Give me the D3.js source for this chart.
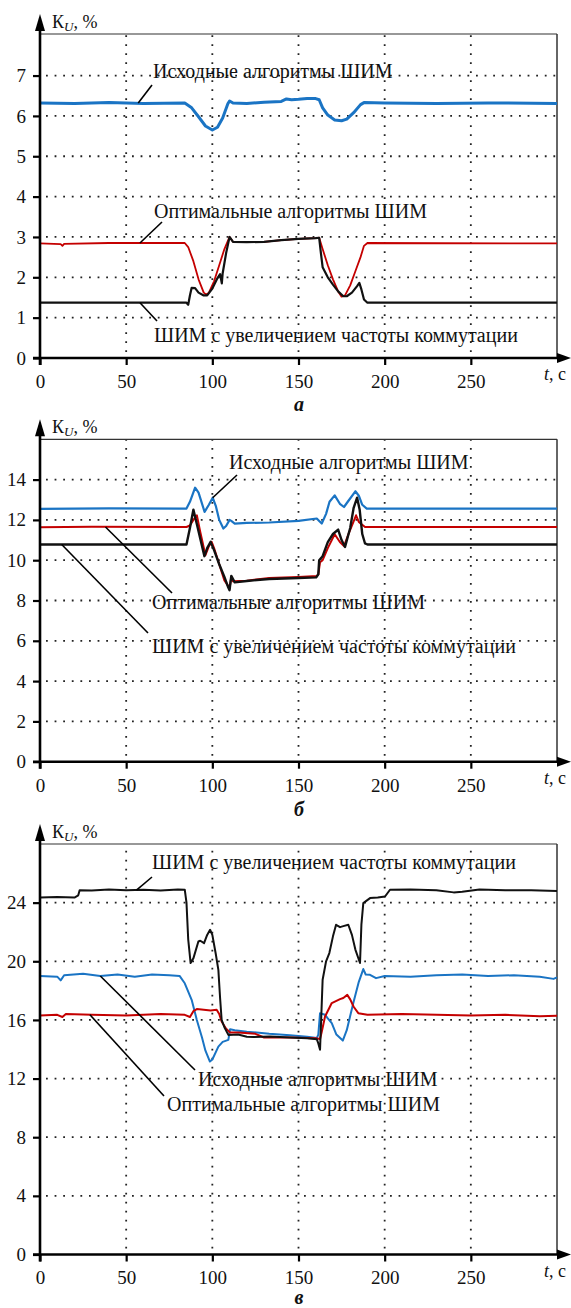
<!DOCTYPE html>
<html>
<head>
<meta charset="utf-8">
<script src="https://cdn.jsdelivr.net/npm/d3@7"></script>
<style>
  body { margin: 0; background: #fff; }
  svg { display: block; font-family: "Liberation Serif", "Times New Roman", serif; }
</style>
</head>
<body>
<svg id="chart" width="571" height="1308"></svg>
<script>
const d3 = window.d3

// ---- data: [t, K_U %] ----
const tTicks = [0, 50, 100, 150, 200, 250]
const tGrid = [50, 100, 150, 200, 250]

// panel а
const aTicks = [0, 1, 2, 3, 4, 5, 6, 7]
const aSource = [[0,6.32],[20,6.31],[40,6.33],[60,6.31],[84,6.32],[88,6.2],[92,5.98],[96,5.75],[100,5.65],[103,5.72],[106,5.95],[109,6.3],[110,6.37],[112,6.32],[120,6.31],[130,6.34],[140,6.36],[143,6.42],[146,6.4],[150,6.41],[155,6.43],[160,6.43],[162,6.4],[164,6.2],[167,6.02],[171,5.9],[175,5.88],[178,5.92],[182,6.08],[186,6.28],[188,6.33],[200,6.32],[230,6.31],[260,6.32],[300,6.31]]
const aOptimal = [[0,2.84],[12,2.82],[13,2.78],[14,2.83],[40,2.85],[84,2.85],[86,2.75],[89,2.4],[92,1.95],[95,1.62],[96.5,1.57],[98,1.62],[101,1.9],[104,2.3],[107,2.7],[110,3.0],[112,2.88],[120,2.87],[130,2.88],[140,2.92],[150,2.95],[160,2.97],[162,2.98],[164,2.7],[167,2.3],[170,1.95],[173,1.65],[175,1.52],[177,1.55],[180,1.8],[183,2.15],[186,2.5],[188,2.78],[190,2.85],[300,2.84]]
const aSwitching = [[0,1.37],[85,1.37],[86,1.32],[87,1.55],[88,1.74],[90,1.73],[92,1.62],[95,1.55],[97,1.55],[100,1.72],[103,1.98],[104.5,2.08],[105.5,1.85],[106,2.1],[108,2.6],[110,3.0],[112,2.88],[120,2.87],[130,2.88],[140,2.92],[150,2.95],[160,2.97],[162,2.98],[163,2.6],[164,2.25],[167,2.0],[170,1.82],[173,1.65],[176,1.53],[178,1.53],[181,1.62],[184,1.78],[185.3,1.86],[186.5,1.7],[188,1.45],[190,1.37],[300,1.37]]

// panel б
const bTicks = [0, 2, 4, 6, 8, 10, 12, 14]
const bSource = [[0,12.55],[40,12.57],[85,12.56],[87,12.9],[90,13.6],[92,13.35],[95.5,12.4],[98,12.75],[100.2,13.1],[102,12.7],[104,12.0],[106.4,11.57],[108,11.7],[110,12.0],[111,11.95],[113,11.82],[120,11.85],[133,11.87],[150,11.95],[160.6,12.07],[162,11.95],[163.5,11.82],[166,12.3],[168,12.9],[171,13.22],[174,12.8],[176.4,12.64],[179,12.95],[183,13.42],[185,13.2],[187,12.75],[189.6,12.56],[300,12.56]]
const bOptimal = [[0,11.63],[30,11.66],[85,11.65],[87,11.72],[89,12.0],[91,12.23],[93,11.4],[96,10.25],[98,10.7],[99.6,10.91],[101,10.6],[104,9.8],[107,9.0],[109,8.75],[110,8.6],[111,9.17],[112,8.95],[120,8.98],[133,9.12],[150,9.17],[160.6,9.22],[161.5,9.3],[162.5,9.9],[164,10.0],[167,10.6],[171,11.29],[174,10.9],[176.4,10.7],[179,11.3],[183.4,12.23],[185,11.9],[188.6,11.65],[300,11.65]]
const bSwitching = [[0,10.78],[85,10.78],[87,11.6],[89,12.51],[91,11.8],[95.4,10.2],[97,10.6],[99,10.91],[101,10.5],[104,9.8],[107,9.17],[109,8.7],[110,8.51],[111,9.22],[113,8.9],[120,8.97],[133,9.07],[150,9.12],[160.3,9.15],[161.5,9.3],[162,10.0],[164,10.2],[167,10.9],[170,11.3],[173,11.52],[175,11.0],[177,10.66],[180,11.6],[182,12.6],[184,13.1],[185.5,12.5],[187,11.3],[188.6,10.83],[190,10.78],[300,10.78]]

// panel в
const cTicks = [0, 4, 8, 12, 16, 20, 24]
const cSource = [[0,19.0],[10,18.95],[12,18.7],[14,19.05],[25,19.15],[35,19.0],[45,19.1],[55,18.95],[65,19.1],[75,19.05],[81,19.0],[84,18.5],[88,17.37],[91,16.0],[94,14.8],[96,13.9],[98.6,13.16],[100,13.3],[103.5,14.18],[106,14.5],[109.3,14.64],[110.3,15.37],[113,15.3],[120,15.2],[133,15.05],[145,14.95],[155,14.85],[160.6,14.76],[161.5,15.0],[162.5,16.46],[165.4,16.35],[167,16.1],[169.3,15.78],[172,15.0],[175.7,14.59],[178,15.3],[181.8,17.15],[185,18.6],[187.6,19.47],[189,19.1],[191.5,19.08],[195,18.85],[200,19.0],[215,18.95],[230,19.05],[245,19.1],[260,19.0],[275,19.05],[290,18.95],[298,18.8],[300,18.9]]
const cOptimal = [[0,16.3],[10,16.35],[13,16.2],[15,16.4],[30,16.35],[50,16.3],[70,16.4],[84,16.35],[87,16.2],[89,16.6],[91,16.74],[95,16.7],[99,16.65],[102.5,16.69],[104,16.4],[105.4,15.89],[108,15.4],[110.3,15.14],[115,15.15],[125,15.05],[130,14.8],[145,14.8],[160,14.75],[162.5,14.7],[163.5,15.2],[165.4,16.23],[169.3,17.15],[174.1,17.42],[176,17.5],[178.3,17.71],[180,17.4],[182,16.9],[184.7,16.46],[190,16.35],[210,16.4],[230,16.35],[250,16.3],[270,16.35],[290,16.25],[300,16.28]]
const cSwitching = [[0,24.35],[10,24.38],[20,24.35],[22.2,24.5],[23,24.85],[30,24.82],[40,24.9],[50,24.85],[60,24.88],[70,24.83],[80,24.9],[84,24.88],[85,24.0],[86,21.5],[87.4,19.88],[89,20.2],[91.9,21.35],[93,21.4],[95.2,21.24],[97,21.8],[98.7,22.15],[100,21.8],[102,20.5],[103.5,19.42],[104.5,17.5],[105.4,16.0],[107,15.5],[109.3,14.98],[115,15.0],[120,14.85],[124,14.83],[133.5,14.87],[145,14.8],[155,14.75],[160.6,14.69],[161.5,14.4],[162.5,13.96],[163.3,16.5],[164,18.74],[166,20.0],[167.9,20.56],[170,21.7],[171.8,22.49],[174.1,22.33],[176,22.4],[178.9,22.49],[181,21.8],[183,20.8],[185.7,19.88],[186.5,22.5],[187.6,23.97],[191.5,24.31],[196,24.35],[200.2,24.42],[203.1,24.88],[215,24.9],[230,24.85],[240,24.7],[245,24.75],[255,24.9],[270,24.85],[285,24.85],[300,24.8]]

const labelSource = 'Исходные алгоритмы ШИМ'
const labelOptimal = 'Оптимальные алгоритмы ШИМ'
const labelSwitching = 'ШИМ с увеличением частоты коммутации'

const blue = '#1a74c4'
const red = '#c40000'
const black = '#111'

// ---- layout ----
let left = 40
let right = 557

let xScale = d3.scaleLinear().domain([0, 300]).range([left, right])

const svg = d3.select('#chart')

const panels = [
  {
    top: 34, bottom: 358, yMax: 8.03, ticks: aTicks, letter: 'а', letterY: 411,
    series: [
      { data: aSource, color: blue, w: 3 },
      { data: aOptimal, color: red, w: 1.8 },
      { data: aSwitching, color: black, w: 2.2 }
    ],
    notes: [
      { text: labelSource, x: 153, y: 78, from: [152, 85], to: [57, 6.32] },
      { text: labelOptimal, x: 154, y: 218, from: [162, 222], to: [58, 2.85] },
      { text: labelSwitching, x: 154, y: 342, from: [157, 321], to: [58, 1.37] }
    ]
  },
  {
    top: 439.3, bottom: 761.7, yMax: 16, ticks: bTicks, letter: 'б', letterY: 816,
    series: [
      { data: bSource, color: blue, w: 2.2 },
      { data: bOptimal, color: red, w: 2 },
      { data: bSwitching, color: black, w: 2.4 }
    ],
    notes: [
      { text: labelSource, x: 229, y: 469, from: [237, 475], to: [100.2, 13.1] },
      { text: labelOptimal, x: 152, y: 609, from: [172, 593], to: [38, 11.65] },
      { text: labelSwitching, x: 152, y: 653, from: [148, 633], to: [12.6, 10.78] }
    ]
  },
  {
    top: 844, bottom: 1254.5, yMax: 28, ticks: cTicks, letter: 'в', letterY: 1304,
    series: [
      { data: cSource, color: blue, w: 2 },
      { data: cOptimal, color: red, w: 2 },
      { data: cSwitching, color: black, w: 2 }
    ],
    notes: [
      { text: labelSwitching, x: 152, y: 869, from: [152, 877], to: [56, 24.85] },
      { text: labelSource, x: 198, y: 1086, from: [195, 1070], to: [35, 19.0] },
      { text: labelOptimal, x: 167, y: 1111, from: [164, 1096], to: [29, 16.35] }
    ]
  }
]

panels.forEach(p => {
  let yScale = d3.scaleLinear().domain([0, p.yMax]).range([p.bottom, p.top])
  let g = svg.append('g')

  // dotted grid
  g.selectAll('.gy')
    .data(p.ticks.filter(v => v > 0))
    .enter()
    .append('line')
      .attr('x1', left + 6).attr('x2', right)
      .attr('y1', d => yScale(d)).attr('y2', d => yScale(d))
      .attr('stroke', '#222').attr('stroke-width', 1.8)
      .attr('stroke-dasharray', '1.8,6.8')
  g.selectAll('.gx')
    .data(tGrid)
    .enter()
    .append('line')
      .attr('x1', d => xScale(d)).attr('x2', d => xScale(d))
      .attr('y1', p.bottom - 6).attr('y2', p.top)
      .attr('stroke', '#222').attr('stroke-width', 1.8)
      .attr('stroke-dasharray', '1.8,7.2')

  // thin frame top / right
  g.append('line')
    .attr('x1', left).attr('x2', right).attr('y1', p.top).attr('y2', p.top)
    .attr('stroke', '#333').attr('stroke-width', 1.2)
  g.append('line')
    .attr('x1', right).attr('x2', right).attr('y1', p.top).attr('y2', p.bottom)
    .attr('stroke', '#333').attr('stroke-width', 1.5)

  // curves
  let line = d3.line().x(d => xScale(d[0])).y(d => yScale(d[1]))
  g.selectAll('.curve')
    .data(p.series)
    .enter()
    .append('path')
      .attr('d', d => line(d.data))
      .attr('fill', 'none')
      .attr('stroke', d => d.color)
      .attr('stroke-width', d => d.w)
      .attr('stroke-linejoin', 'round')

  // leader lines and captions
  p.notes.forEach(n => {
    g.append('line')
      .attr('x1', n.from[0]).attr('y1', n.from[1])
      .attr('x2', xScale(n.to[0])).attr('y2', yScale(n.to[1]))
      .attr('stroke', '#000').attr('stroke-width', 1.6)
    g.append('text')
      .attr('x', n.x).attr('y', n.y)
      .attr('font-size', 20)
      .attr('fill', '#111')
      .text(n.text)
  })

  // axes
  let yAxis = g.append('g')
    .attr('transform', `translate(${left},0)`)
    .call(d3.axisLeft(yScale).tickValues(p.ticks).tickSize(7).tickPadding(7).tickFormat(d3.format('d')))
  let xAxis = g.append('g')
    .attr('transform', `translate(0,${p.bottom})`)
    .call(d3.axisBottom(xScale).tickValues(tTicks).tickSize(7).tickPadding(9.5).tickFormat(d3.format('d')))
  ;[yAxis, xAxis].forEach(ax => {
    ax.attr('font-family', null)
    ax.select('.domain').remove()
    ax.selectAll('.tick line').attr('stroke', '#000').attr('stroke-width', 2.2)
    ax.selectAll('.tick text')
      .attr('font-family', '"Liberation Serif", "Times New Roman", serif')
      .attr('font-size', 19).attr('fill', '#111')
  })

  // thick axis lines with arrows
  g.append('line')
    .attr('x1', left).attr('x2', left).attr('y1', p.bottom + 7).attr('y2', p.top - 8)
    .attr('stroke', '#000').attr('stroke-width', 2.6)
  g.append('path')
    .attr('d', `M${left},${p.top - 20} L${left - 5},${p.top - 3} L${left + 5},${p.top - 3} Z`)
    .attr('fill', '#000')
  g.append('line')
    .attr('x1', left - 7).attr('x2', right + 2).attr('y1', p.bottom).attr('y2', p.bottom)
    .attr('stroke', '#000').attr('stroke-width', 2.6)
  g.append('path')
    .attr('d', `M571,${p.bottom} L${right},${p.bottom - 5} L${right},${p.bottom + 5} Z`)
    .attr('fill', '#000')

  // axis titles
  let yt = g.append('text').attr('x', 52).attr('y', p.top - 6).attr('font-size', 18).attr('fill', '#111')
  yt.append('tspan').text('К')
  yt.append('tspan').attr('font-style', 'italic').attr('font-size', 13).attr('dy', 3).text('U')
  yt.append('tspan').attr('dy', -3).text(', %')

  let xt = g.append('text').attr('x', 544).attr('y', p.bottom + 22).attr('font-size', 18).attr('fill', '#111')
  xt.append('tspan').attr('font-style', 'italic').text('t')
  xt.append('tspan').text(', с')

  g.append('text')
    .attr('x', 299).attr('y', p.letterY)
    .attr('text-anchor', 'middle')
    .attr('font-size', 20).attr('font-weight', 'bold').attr('font-style', 'italic')
    .attr('fill', '#111')
    .text(p.letter)
})
</script>
</body>
</html>
